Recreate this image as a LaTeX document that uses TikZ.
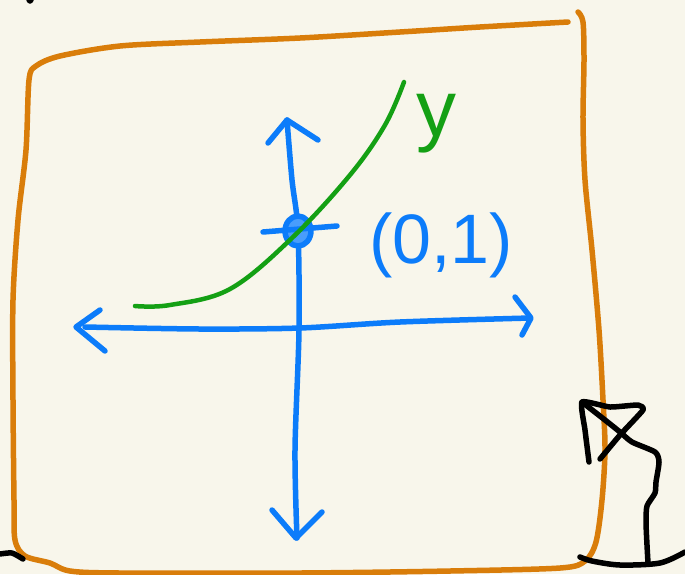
\documentclass[tikz,border=0pt]{standalone}
\usepackage{fontspec}
\setmainfont{Liberation Sans}
\definecolor{paper}{RGB}{248,246,235}
\definecolor{frameorange}{RGB}{217,125,10}
\definecolor{axisblue}{RGB}{12,124,250}
\definecolor{curvegreen}{RGB}{20,160,20}
\usetikzlibrary{calc}

\begin{document}
\begin{tikzpicture}[x=1pt, y=-1pt,
    pen/.style={line width=5.5pt, line cap=round, line join=round},
    frame/.style={pen, frameorange},
    axis/.style={pen, axisblue},
    curve/.style={pen, line width=4.5pt, curvegreen},
    ink/.style={pen, black},
    label/.style={inner sep=0pt, font=\fontsize{70}{70}\selectfont},
  ]
    \fill[paper] (0,0) rectangle (685,574);
    \useasboundingbox (0,0) rectangle (685,574);

    % orange frame
    \draw[frame] plot[smooth, tension=0.5] coordinates {(568,22) (480,27) (400,32) (300,38) (200,42)
      (120,46) (60,56) (36,66) (29,80) (26,150) (18,220) (13,300) (13,400) (14,500) (15,540)
      (25,556) (50,563) (70,571) (120,573) (300,573) (450,571) (560,568) (585,561) (596,542)
      (602,500) (605,450) (603,400) (599,330) (592,250) (585,180) (583,120) (584,60) (583,22) (578,12)};

    % axes
    \coordinate (xl) at (85,327);
    \coordinate (xr) at (530,318);
    \coordinate (yt) at (287,120);
    \coordinate (yb) at (297,538);
    \coordinate (o) at (298,231);
    \draw[axis] plot[smooth] coordinates {(xl) (200,329) (300,328) (400,322) (xr)};
    \draw[axis] plot[smooth] coordinates {(yt) (292,180) (o) (299,330) (295,450) (yb)};
    \draw[axis] (100,310) -- (76,327) -- (105,351);
    \draw[axis] (515,297) -- (531,318) -- (522,335);
    \draw[axis] (268,143) -- (287,120) -- (318,140);
    \draw[axis] (272,510) -- (296,538) -- (322,512);

    % point (0,1)
    \draw[axis, fill=axisblue!75] (o) ellipse [x radius=13, y radius=15];
    \draw[axis] (263,232) -- (337,226);
    \node[label, text=axisblue] (pt) at (441,245) {(0,1)};

    % exponential curve
    \draw[curve] plot[smooth, tension=0.6] coordinates {(135,306) (170,305) (230,289) (292,238)
      (350,175) (385,125) (404,82)};
    \node[label, text=curvegreen, font=\fontsize{80}{80}\selectfont] (ylab) at (436,124) {y};

    % black strokes
    \draw[ink] (30,0) circle [radius=1];
    \draw[ink] plot[smooth, tension=0.4] coordinates {(0,554) (12,553) (23,559)};
    \draw[ink] plot[smooth, tension=0.3] coordinates {(589,462) (585,430) (582,402) (610,407)
      (638,405) (643,410) (620,435) (600,459)};
    \draw[ink] plot[smooth, tension=0.4] coordinates {(582,402) (605,420) (620,432) (632,442)
      (655,452) (659,462) (656,482) (655,493) (647,506) (646,522) (647,545) (648,563)};
    \draw[ink] plot[smooth, tension=0.5] coordinates {(580,557) (592,561) (620,565) (660,563) (685,552)};
  \end{tikzpicture}
\end{document}
